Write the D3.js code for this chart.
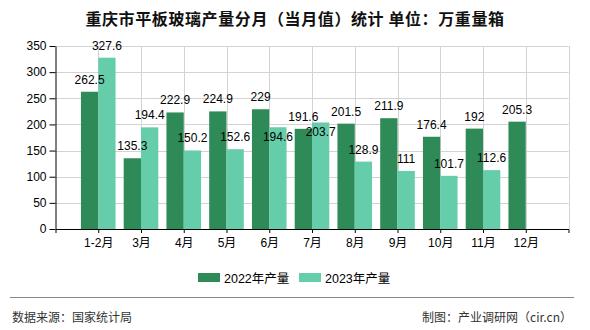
<!DOCTYPE html>
<html><head><meta charset="utf-8">
<script src="https://cdn.jsdelivr.net/npm/d3@7"></script>
<style>body{margin:0;background:#fff}svg{display:block}</style>
</head><body>
<svg id="c" width="590" height="330"></svg>
<script>
const categories = ["1-2月","3月","4月","5月","6月","7月","8月","9月","10月","11月","12月"];
const values2022 = [262.5,135.3,222.9,224.9,229,191.6,201.5,211.9,176.4,192,205.3];
const values2023 = [327.6,194.4,150.2,152.6,194.6,203.7,128.9,111,101.7,112.6,null];
const seriesNames = ["2022年产量","2023年产量"];
const yTicks = [0,50,100,150,200,250,300,350];
const title = "重庆市平板玻璃产量分月（当月值）统计 单位：万重量箱";
const source = "数据来源：国家统计局";
const credit = "制图：产业调研网（cir.cn）";

const colors = ["#2e8b57","#66cdaa"];
const svg = d3.select("#c");
const L = 55.5, R = 568.5, T = 46, B = 229;
const x = d3.scalePoint().domain(categories).range([L, R]).padding(1);
const y = d3.scaleLinear().domain([0,350]).range([B, T]);
const bw = 17.3;
const cjk = "'Liberation Sans','Noto Sans CJK SC',sans-serif";

// title
svg.append("text").attr("x",295).attr("y",25).attr("text-anchor","middle")
  .style("font-family","'Noto Sans CJK SC',sans-serif").style("font-size","16px")
  .style("font-weight","bold").style("letter-spacing","0.6px").attr("fill","#111").text(title);

// horizontal grid
svg.append("g").selectAll("line").data(yTicks.filter(d=>d>0)).join("line")
  .attr("x1",L).attr("x2",R).attr("y1",d=>Math.round(y(d))+0.5).attr("y2",d=>Math.round(y(d))+0.5)
  .attr("stroke","#d3d3d3");
// vertical grid
const vpos = categories.map(c=>x(c)).concat([R]);
svg.append("g").selectAll("line").data(vpos).join("line")
  .attr("x1",d=>Math.round(d)+0.5).attr("x2",d=>Math.round(d)+0.5).attr("y1",T).attr("y2",B)
  .attr("stroke","#d3d3d3");

// bars
const series = [values2022, values2023];
series.forEach((vals, s) => {
  svg.append("g").selectAll("rect").data(categories.map((c,i)=>({c,v:vals[i]})).filter(d=>d.v!=null)).join("rect")
    .attr("x", d => x(d.c) - (s===0 ? bw : 0))
    .attr("y", d => y(d.v)).attr("width", bw).attr("height", d => B - y(d.v))
    .attr("fill", colors[s]);
});

// labels with simple collision avoidance
const lw = 30, lh = 9;
function box(s, i){
  const v = series[s][i];
  const cx = x(categories[i]) + (s===0 ? -bw/2 : bw/2);
  const by = y(v) - 8;
  return {cx, by, x0:cx-lw/2, x1:cx+lw/2, y0:by-lh, y1:by, v};
}
const labels = [];
categories.forEach((c,i)=>{
  [0,1].forEach(s=>{
    if (series[s][i]==null) return;
    const b = box(s,i);
    if (s===1 && i+1<categories.length && series[0][i+1]!=null){
      const n = box(0,i+1);
      if (b.x1 > n.x0 && b.x0 < n.x1 && b.y1 > n.y0 && b.y0 < n.y1) b.by = y(b.v) + 13.5;
    }
    labels.push(b);
  });
});
svg.append("g").selectAll("text").data(labels).join("text")
  .attr("x",d=>d.cx).attr("y",d=>d.by).attr("text-anchor","middle")
  .style("font-family","'Liberation Sans',sans-serif").style("font-size","12px").attr("fill","#000")
  .text(d=>d.v);

// axes
const yAxis = d3.axisLeft(y).tickValues(yTicks).tickSize(6).tickPadding(3).tickSizeOuter(0);
const gy = svg.append("g").attr("transform",`translate(${L},0)`).call(yAxis);
gy.selectAll("text").style("font-family","'Liberation Sans',sans-serif").style("font-size","12px").attr("fill","#000");
gy.selectAll("line,path").attr("stroke","#000");

const xAxis = d3.axisBottom(x).tickSize(4).tickPadding(5).tickSizeOuter(4);
const gx = svg.append("g").attr("transform",`translate(0,${B})`).call(xAxis);
gx.selectAll("text").style("font-family",cjk).style("font-size","12px").attr("fill","#000");
gx.selectAll("line,path").attr("stroke","#000");

// legend
const leg = svg.append("g");
const lx = [198, 299];
seriesNames.forEach((n,s)=>{
  leg.append("rect").attr("x",lx[s]).attr("y",273).attr("width",22).attr("height",9).attr("fill",colors[s]);
  leg.append("text").attr("x",lx[s]+26).attr("y",282.5)
    .style("font-family",cjk).style("font-size","12.5px").attr("fill","#000").text(n);
});

// footer
svg.append("line").attr("x1",10).attr("x2",574).attr("y1",297.5).attr("y2",297.5).attr("stroke","#888");
svg.append("text").attr("x",12).attr("y",322).style("font-family","'Noto Sans CJK SC',sans-serif")
  .style("font-size","12px").attr("fill","#333").text(source);
svg.append("text").attr("x",572).attr("y",322).attr("text-anchor","end").style("font-family","'Noto Sans CJK SC',sans-serif")
  .style("font-size","12px").attr("fill","#333").text(credit);
</script>
</body></html>
